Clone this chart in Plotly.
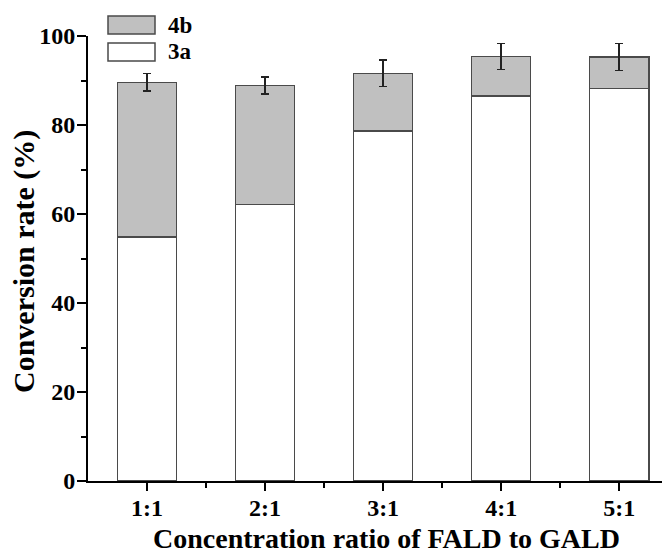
import plotly.graph_objects as go

categories = ["1:1", "2:1", "3:1", "4:1", "5:1"]
values_3a = [54.8, 62.1, 78.7, 86.5, 88.2]
values_4b = [34.8, 26.8, 12.9, 8.9, 7.1]
errors_total = [2.0, 1.9, 3.0, 2.9, 3.0]
y_ticks = [0, 20, 40, 60, 80, 100]

FONT = "Liberation Serif, Times New Roman, serif"
xpos = list(range(len(categories)))

fig = go.Figure()
fig.add_trace(go.Bar(
    x=xpos, y=values_3a, name="3a", width=0.5,
    marker=dict(color="white", line=dict(color="#4a4a4a", width=1.5)),
    showlegend=False,
))
fig.add_trace(go.Bar(
    x=xpos, y=values_4b, name="4b", width=0.5,
    marker=dict(color="#c0c0c0", line=dict(color="#4a4a4a", width=1.5)),
    error_y=dict(type="data", array=errors_total, visible=True,
                 color="#222222", thickness=1.5, width=4),
    showlegend=False,
))

# page body has an 8px margin; compensate so the plot lands where the original is
OFF = 8
FIG_W, FIG_H = 670 - OFF, 556 - OFF
PL, PT, PR, PB = 88, 36, 670, 481          # plot area in window pixels
L, T = PL - OFF, PT - OFF
R, B = FIG_W - (PR - OFF), FIG_H - (PB - OFF)

def px(x): return (x - PL) / (PR - PL)
def py(y): return (PB - y) / (PB - PT)

legend_items = [("4b", "#c0c0c0", 16, 34), ("3a", "white", 43, 61)]
for name, col, y0, y1 in legend_items:
    fig.add_shape(type="rect", xref="paper", yref="paper",
                  x0=px(108), x1=px(155), y0=py(y1), y1=py(y0),
                  fillcolor=col, line=dict(color="#4a4a4a", width=1.5))
    fig.add_annotation(text=name, xref="paper", yref="paper",
                       x=px(166), y=py((y0 + y1) / 2), xanchor="left", yanchor="middle",
                       showarrow=False,
                       font=dict(family=FONT, size=23, color="black", weight="bold"))

# axis titles
fig.add_annotation(text="Concentration ratio of FALD to GALD", xref="paper", yref="paper",
                   x=px(386), y=py(538), xanchor="center", yanchor="middle", showarrow=False,
                   font=dict(family=FONT, size=28, color="black", weight="bold"))
fig.add_annotation(text="Conversion rate (%)", xref="paper", yref="paper", textangle=-90,
                   x=px(24), y=py(262), xanchor="center", yanchor="middle", showarrow=False,
                   font=dict(family=FONT, size=30, color="black", weight="bold"))

fig.update_layout(
    width=FIG_W, height=FIG_H,
    margin=dict(l=L, r=R, t=T, b=B, autoexpand=False),
    paper_bgcolor="white", plot_bgcolor="white",
    barmode="stack", bargap=0.5,
    font=dict(family=FONT, size=24, color="black", weight="bold"),
    xaxis=dict(
        range=[-0.5, 4.43], tickvals=xpos, ticktext=categories,
        showline=True, linecolor="black", linewidth=1.8,
        ticks="outside", ticklen=8, tickwidth=1.5, tickcolor="black",
        minor=dict(tickvals=[0.5, 1.5, 2.5, 3.5], ticks="outside", ticklen=5,
                   tickwidth=1.5, tickcolor="black"),
        showgrid=False, zeroline=False, ticklabelstandoff=-4,
        tickfont=dict(family=FONT, size=24, weight="bold"),
    ),
    yaxis=dict(
        range=[0, 100], tickvals=y_ticks,
        showline=True, linecolor="black", linewidth=1.8,
        ticks="outside", ticklen=9, tickwidth=1.5, tickcolor="black",
        minor=dict(dtick=10, ticks="outside", ticklen=5, tickwidth=1.5, tickcolor="black"),
        showgrid=False, zeroline=False, ticklabelstandoff=-3,
        tickfont=dict(family=FONT, size=24, weight="bold"),
    ),
)

fig.write_html("out.html")
